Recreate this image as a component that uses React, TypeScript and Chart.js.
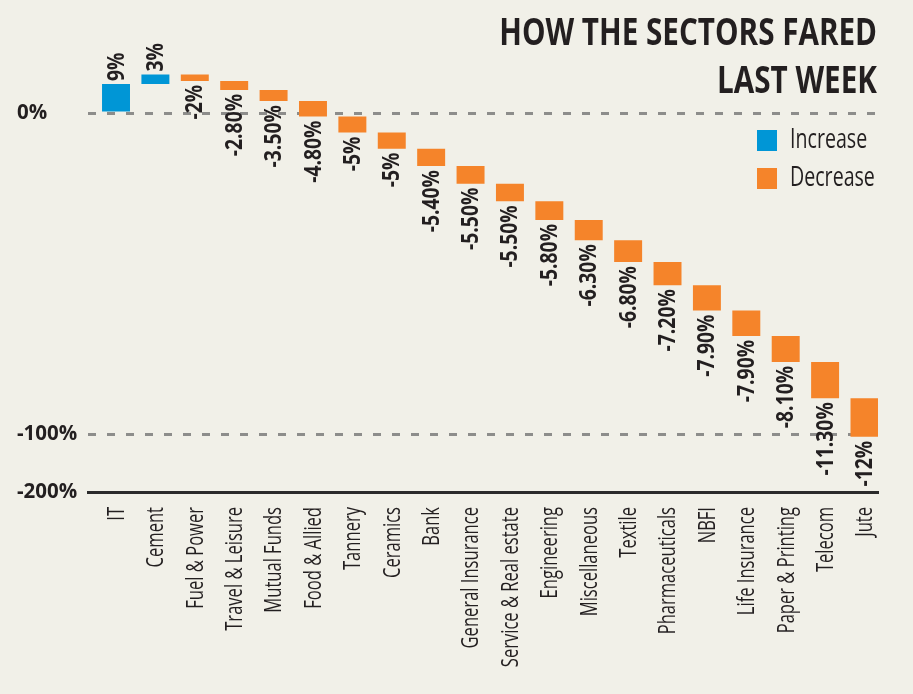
import React, { useEffect, useRef } from 'react';
import { Chart, registerables } from 'chart.js';

Chart.register(...registerables);

const categories = [
  'IT', 'Cement', 'Fuel & Power', 'Travel & Leisure', 'Mutual Funds', 'Food & Allied',
  'Tannery', 'Ceramics', 'Bank', 'General Insurance', 'Service & Real estate', 'Engineering',
  'Miscellaneous', 'Textile', 'Pharmaceuticals', 'NBFI', 'Life Insurance', 'Paper & Printing',
  'Telecom', 'Jute',
];
const changes = [
  9, 3, -2, -2.8, -3.5, -4.8, -5, -5, -5.4, -5.5, -5.5, -5.8, -6.3, -6.8, -7.2, -7.9, -7.9, -8.1,
  -11.3, -12,
];
const yTickValues = [0, -100];
const yTickLabels = ['0%', '-100%', '-200%'];
const titleLines = ['HOW THE SECTORS FARED', 'LAST WEEK'];
const seriesNames = ['Increase', 'Decrease'];

const BLUE = '#0096d6';
const ORANGE = '#f5842a';
const TEXT = '#231f20';
const BG = '#f1f0e8';
const GRID = '#8d8d8b';
const FONT = "'Open Sans', 'Noto Sans', 'DejaVu Sans', sans-serif";

const fmt = (v: number) => (Number.isInteger(v) ? `${v}%` : `${v.toFixed(2)}%`);

// draw text horizontally condensed (emulates a condensed typeface)
function condensed(ctx: any, text: string, sx: number) {
  ctx.save();
  ctx.scale(sx, 1);
  ctx.fillText(text, 0, 0);
  ctx.restore();
}

const textPlugin = {
  id: 'textPlugin',
  afterDatasetsDraw(chart: any) {
    const ctx = chart.ctx;
    ctx.save();
    ctx.fillStyle = TEXT;
    ctx.textBaseline = 'middle';

    // value labels
    ctx.font = `bold 23px ${FONT}`;
    chart.data.datasets.forEach((ds: any, di: number) => {
      const meta = chart.getDatasetMeta(di);
      meta.data.forEach((el: any, j: number) => {
        const v = ds.data[j].v;
        const top = Math.min(el.y, el.base);
        const bottom = Math.max(el.y, el.base);
        ctx.save();
        if (v >= 0) {
          ctx.translate(el.x + 1, top - 3);
          ctx.rotate(-Math.PI / 2);
          ctx.textAlign = 'left';
        } else {
          ctx.translate(el.x + 1, bottom + 4);
          ctx.rotate(-Math.PI / 2);
          ctx.textAlign = 'right';
        }
        condensed(ctx, fmt(v), 0.84);
        ctx.restore();
      });
    });

    // category labels under the axis, at the x scale's tick positions
    const xs = chart.scales.x;
    ctx.font = `24px ${FONT}`;
    ctx.textAlign = 'right';
    categories.forEach((c, i) => {
      ctx.save();
      ctx.translate(xs.getPixelForValue(i) + 1, xs.top + 15);
      ctx.rotate(-Math.PI / 2);
      condensed(ctx, c, 0.69);
      ctx.restore();
    });
    ctx.restore();
  },
  afterDraw(chart: any) {
    const ctx = chart.ctx;
    const right = chart.chartArea.right;
    ctx.save();
    ctx.fillStyle = TEXT;
    ctx.textAlign = 'right';
    ctx.textBaseline = 'alphabetic';
    ctx.font = `bold 38px ${FONT}`;
    titleLines.forEach((line, i) => {
      ctx.save();
      ctx.translate(right - 1, 45 + i * 48);
      condensed(ctx, line, 0.78);
      ctx.restore();
    });

    chart.data.datasets.forEach((ds: any, i: number) => {
      const y = 130 + i * 38;
      ctx.fillStyle = ds.backgroundColor;
      ctx.fillRect(right - 121, y, 20, 21);
      ctx.fillStyle = TEXT;
      ctx.textAlign = 'left';
      ctx.textBaseline = 'middle';
      ctx.font = `28px ${FONT}`;
      ctx.save();
      ctx.translate(right - 88, y + 10);
      condensed(ctx, ds.label, 0.7);
      ctx.restore();
    });
    ctx.restore();
  },
};

export default function App() {
  const ref = useRef<HTMLCanvasElement>(null);

  useEffect(() => {
    document.body.style.margin = '0';
    document.body.style.background = BG;
    let level = 0;
    const inc: any[] = [];
    const dec: any[] = [];
    changes.forEach((c, i) => {
      const start = level;
      level += c;
      const pt = { x: i, y: [start, level], v: c };
      (c >= 0 ? inc : dec).push(pt);
    });

    const chart = new Chart(ref.current as HTMLCanvasElement, {
      type: 'bar',
      data: {
        datasets: [
          { label: seriesNames[0], data: inc, backgroundColor: BLUE, borderWidth: 0 },
          { label: seriesNames[1], data: dec, backgroundColor: ORANGE, borderWidth: 0 },
        ],
      },
      options: {
        responsive: false,
        animation: false,
        datasets: { bar: { grouped: false, barPercentage: 0.71, categoryPercentage: 1 } },
        layout: { padding: { top: 29.5, left: 17, right: 35, bottom: 0 } },
        plugins: { legend: { display: false }, tooltip: { enabled: false }, title: { display: false } },
        scales: {
          x: {
            type: 'linear',
            offset: false,
            min: -0.711,
            max: 19.343,
            afterBuildTicks: (s: any) => {
              s.ticks = categories.map((_, i) => ({ value: i }));
            },
            afterFit: (s: any) => {
              s.height = 202;
            },
            ticks: { display: false },
            grid: { display: false, drawTicks: false },
            border: { display: true, color: '#2b2b2b', width: 3 },
          },
          y: {
            min: -118,
            max: 26,
            afterBuildTicks: (s: any) => {
              s.ticks = [...yTickValues, s.min].map((value) => ({ value }));
            },
            afterFit: (s: any) => {
              s.width = 71;
            },
            ticks: {
              callback: (_v: any, i: number) => yTickLabels[i],
              crossAlign: 'far',
              padding: 0,
              color: TEXT,
              font: { family: FONT, size: 20.5, weight: 'bold' },
            },
            grid: {
              color: (c: any) => (c.index === 2 ? 'rgba(0,0,0,0)' : GRID),
              lineWidth: 3,
              drawTicks: false,
            },
            border: { display: false, dash: [8, 11] },
          },
        },
      } as any,
      plugins: [textPlugin],
    });
    return () => chart.destroy();
  }, []);

  return (
    <div style={{ width: 913, height: 694, background: BG }}>
      <canvas ref={ref} width={913} height={694} style={{ display: 'block' }} />
    </div>
  );
}
